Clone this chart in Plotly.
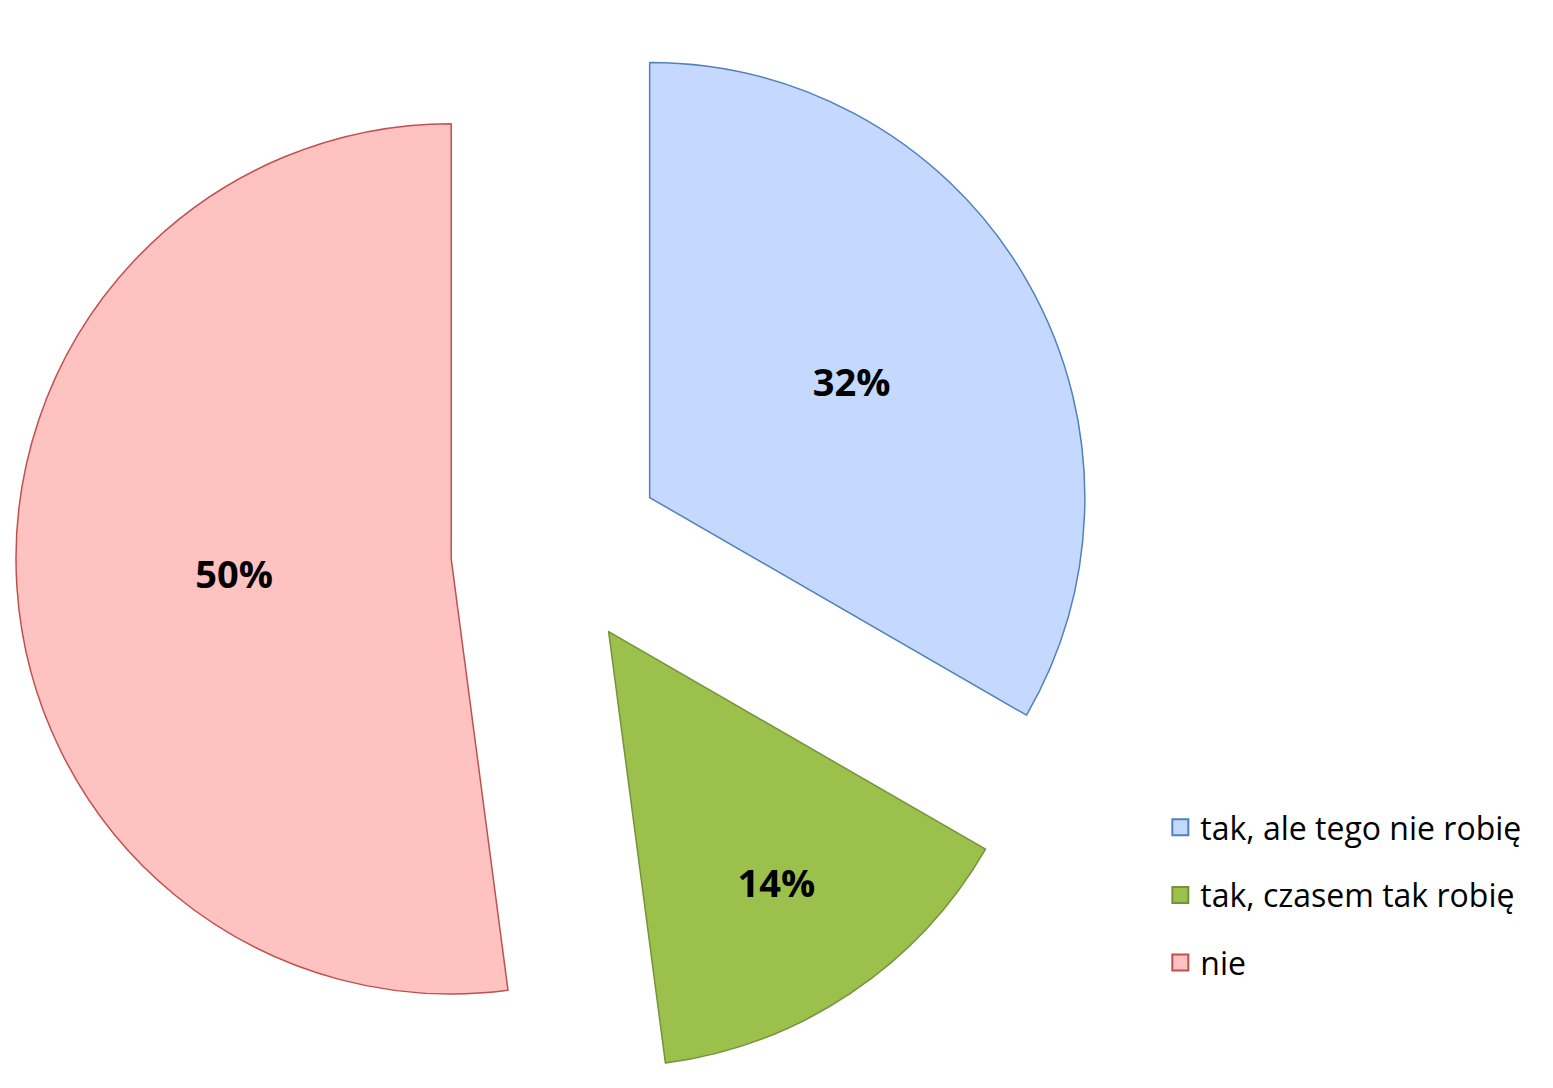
import plotly.graph_objects as go

# ── data ────────────────────────────────────────────────────────────────
labels = ["tak, ale tego nie robię", "tak, czasem tak robię", "nie"]
values = [32, 14, 50]

fill_colors = ["#c4d9fd", "#9cc04c", "#fec2c1"]
line_colors = ["#4f81bd", "#76923c", "#c0504d"]
pulls = [0.25, 0.22, 0.24]

fig = go.Figure()

fig.add_trace(go.Pie(
    labels=labels,
    values=values,
    sort=False,
    direction="clockwise",
    rotation=0,
    pull=pulls,
    texttemplate="%{value}%",
    textposition="inside",
    insidetextorientation="horizontal",
    textfont=dict(family="Open Sans", size=38, color="black", weight="bold"),
    marker=dict(colors=fill_colors, line=dict(color=line_colors, width=1.5)),
    domain=dict(x=[0.0, 0.705], y=[0.0, 1.0]),
    showlegend=False,
    hoverinfo="label+value",
))

# legend entries (dummy scatter traces so the row spacing can be set)
for i, lab in enumerate(labels):
    fig.add_trace(go.Scatter(
        x=[None], y=[None], mode="markers", name=lab,
        legendgroup=f"g{i}",
        marker=dict(symbol="square", size=21, color=fill_colors[i],
                    line=dict(color=line_colors[i], width=2)),
    ))

fig.update_layout(
    width=1553,
    height=1088,
    margin=dict(l=0, r=0, t=0, b=0),
    paper_bgcolor="white",
    plot_bgcolor="white",
    xaxis=dict(visible=False),
    yaxis=dict(visible=False),
    font=dict(family="Open Sans", color="black"),
    legend=dict(
        x=0.742, y=0.272, xanchor="left", yanchor="top",
        font=dict(size=32, color="black"),
        tracegroupgap=23,
        bgcolor="rgba(0,0,0,0)",
    ),
)

fig.write_html("out.html")
